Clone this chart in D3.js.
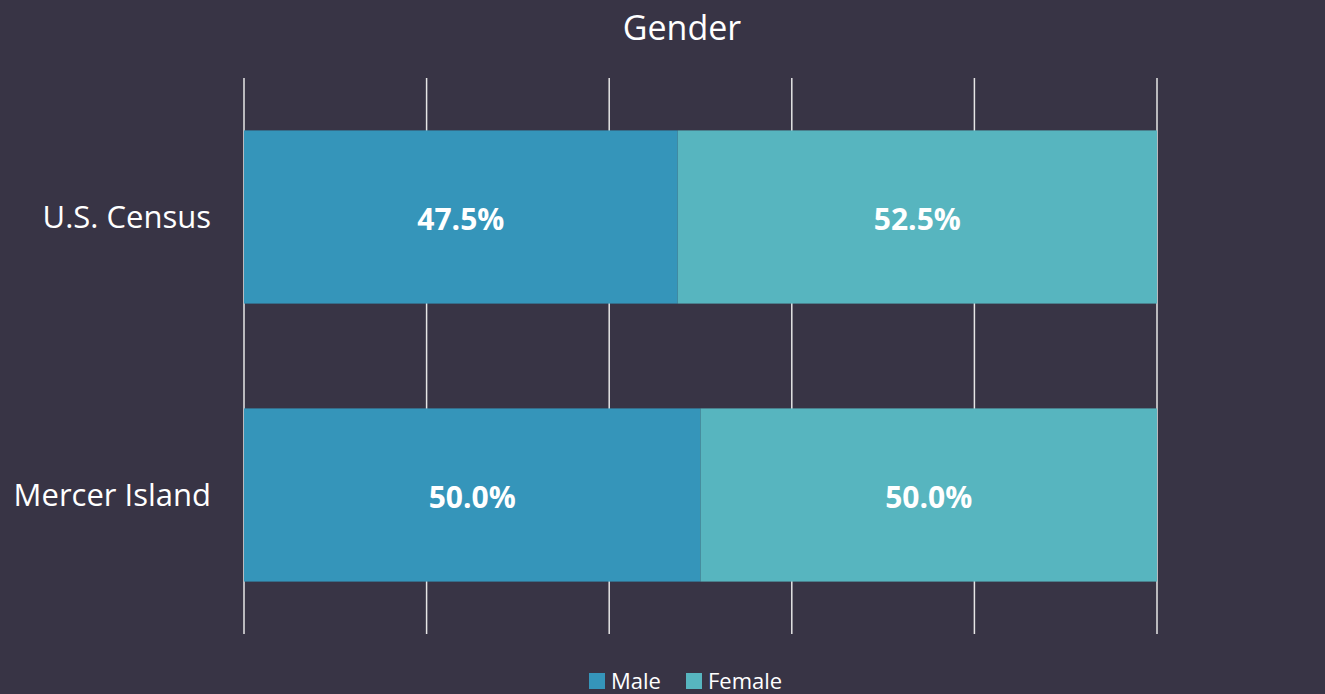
<!DOCTYPE html>
<html>
<head>
<meta charset="utf-8">
<script src="https://cdn.jsdelivr.net/npm/d3@7"></script>
<style>
  html, body { margin: 0; padding: 0; background: #383445; }
  svg { display: block; font-family: "Open Sans", sans-serif; }
</style>
</head>
<body>
<svg id="chart" width="1325" height="694"></svg>
<script>
// data
const categories = ['U.S. Census', 'Mercer Island'];
const seriesNames = ['Male', 'Female'];
const maleValues = [0.475, 0.50];
const femaleValues = [0.525, 0.50];
const xTicks = [0, 0.2, 0.4, 0.6, 0.8, 1.0];
const colors = ['#3595ba', '#57b5bf'];

const plot = { left: 244, right: 1157, top: 78, bottom: 634 };

const svg = d3.select('#chart');

const x = d3.scaleLinear().domain([0, 1]).range([plot.left, plot.right]);
const y = d3.scaleBand().domain(categories).range([plot.top, plot.bottom]).paddingInner(0.377).paddingOuter(0.1885);

// title
svg.append('text')
  .attr('x', 682).attr('y', 40)
  .attr('text-anchor', 'middle')
  .attr('fill', '#ffffff')
  .style('font-size', '34px')
  .text('Gender');

// gridlines
svg.append('g')
  .selectAll('line')
  .data(xTicks)
  .enter().append('line')
  .attr('x1', d => x(d)).attr('x2', d => x(d))
  .attr('y1', plot.top).attr('y2', plot.bottom)
  .attr('stroke', '#e6e6e6')
  .attr('stroke-width', 1.5);

// stack
const rows = categories.map((c, i) => ({ cat: c, Male: maleValues[i], Female: femaleValues[i] }));
const stacked = d3.stack().keys(seriesNames)(rows);

const layers = svg.append('g')
  .selectAll('g')
  .data(stacked)
  .enter().append('g')
  .attr('fill', (d, i) => colors[i]);

layers.selectAll('rect')
  .data(d => d)
  .enter().append('rect')
  .attr('x', d => x(d[0]))
  .attr('width', d => x(d[1]) - x(d[0]))
  .attr('y', d => y(d.data.cat))
  .attr('height', y.bandwidth());

// value labels
layers.selectAll('text')
  .data(d => d)
  .enter().append('text')
  .attr('x', d => (x(d[0]) + x(d[1])) / 2)
  .attr('y', d => y(d.data.cat) + y.bandwidth() / 2 + 2)
  .attr('dy', '0.35em')
  .attr('text-anchor', 'middle')
  .attr('fill', '#ffffff')
  .style('font-size', '30px')
  .style('font-weight', 'bold')
  .text(d => d3.format('.1%')(d[1] - d[0]));

// category labels
svg.append('g')
  .selectAll('text')
  .data(categories)
  .enter().append('text')
  .attr('x', 211)
  .attr('y', d => y(d) + y.bandwidth() / 2)
  .attr('dy', '0.35em')
  .attr('text-anchor', 'end')
  .attr('fill', '#ffffff')
  .style('font-size', '31px')
  .text(d => d);

// legend
const legendX = [589, 686];
const legend = svg.append('g')
  .selectAll('g')
  .data(seriesNames)
  .enter().append('g')
  .attr('transform', (d, i) => 'translate(' + legendX[i] + ',673)');

legend.append('rect')
  .attr('width', 16).attr('height', 16)
  .attr('fill', (d, i) => colors[i]);

legend.append('text')
  .attr('x', 22).attr('y', 8)
  .attr('dy', '0.35em')
  .attr('fill', '#ffffff')
  .style('font-size', '22px')
  .text(d => d);
</script>
</body>
</html>
